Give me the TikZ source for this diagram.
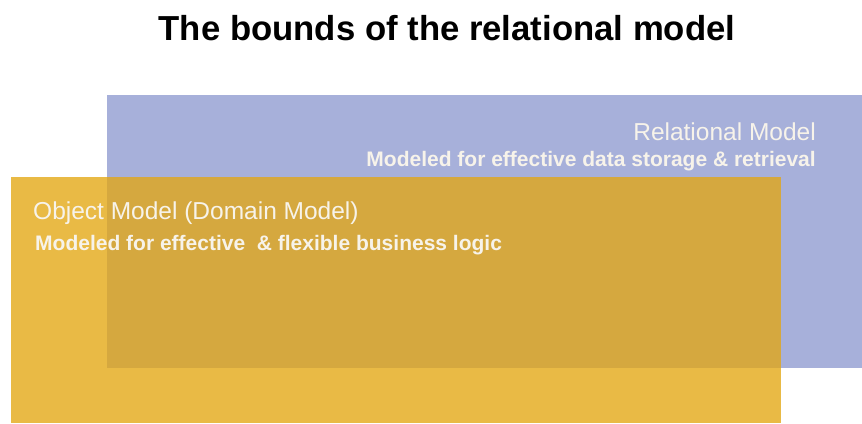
\documentclass[tikz,border=0pt]{standalone}
\usepackage{fontspec}
\setmainfont{Liberation Sans}
\definecolor{relblue}{HTML}{A7B0DA}
\definecolor{objyellow}{HTML}{E9BA45}
\definecolor{overlap}{HTML}{D5A83F}
\definecolor{txtlight}{HTML}{F7F3EA}
\begin{document}
\begin{tikzpicture}[x=1pt,y=-1pt,
  lbl/.style={text=txtlight,inner sep=0pt,anchor=base west},
  head/.style={font=\fontsize{24.5}{28}\selectfont},
  desc/.style={font=\bfseries\fontsize{21}{25}\selectfont}]
\useasboundingbox (0,0) rectangle (862,423);
\fill[white] (0,0) rectangle (862,423);
\node[anchor=base,inner sep=0pt,font=\bfseries\fontsize{34.7}{40}\selectfont] (title) at (447,40) {The bounds of the relational model};
\fill[relblue] (107,95) rectangle (862,368);
\fill[objyellow] (11,177) rectangle (781,423);
\fill[overlap] (107,177) rectangle (781,368);
\node[lbl,head,anchor=base east] (rm) at (816,140) {Relational Model};
\node[lbl,desc,anchor=base east] (rmd) at (816,166) {Modeled for effective data storage \& retrieval};
\node[lbl,head] (om) at (33,219) {Object Model (Domain Model)};
\node[lbl,desc] (omd) at (35,250) {Modeled for effective \ \& flexible business logic};
\end{tikzpicture}
\end{document}
